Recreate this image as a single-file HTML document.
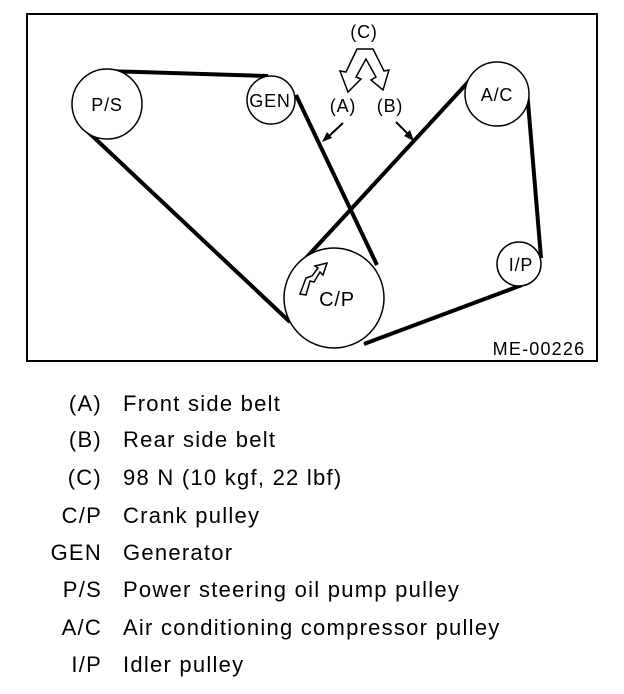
<!DOCTYPE html>
<html><head><style>
body{margin:0;background:#fff;width:624px;height:694px;overflow:hidden;font-family:"Liberation Sans",sans-serif;}
.leg{position:absolute;font-size:22px;color:#000;letter-spacing:1.25px;}
.k{position:absolute;width:84px;text-align:right;left:18px;}
.v{position:absolute;left:123px;white-space:nowrap;}
</style></head><body>
<svg width="624" height="694" style="position:absolute;left:0;top:0" font-family="Liberation Sans, sans-serif">
<rect x="27" y="14" width="570" height="347" fill="none" stroke="#000" stroke-width="2"/>
<g stroke="#000" stroke-width="4" fill="none">
<line x1="105" y1="71" x2="268" y2="76"/>
<line x1="86" y1="130" x2="290" y2="322"/>
<line x1="296" y1="95" x2="377" y2="265"/>
<line x1="306" y1="258" x2="470" y2="80"/>
<line x1="527" y1="90" x2="541" y2="258"/>
<line x1="522" y1="285" x2="364" y2="344"/>
</g>
<g stroke="#000" stroke-width="1.5" fill="#fff">
<circle cx="107" cy="104" r="35"/>
<circle cx="271" cy="100" r="24"/>
<circle cx="497" cy="94" r="32"/>
<circle cx="519" cy="264" r="22"/>
<circle cx="334" cy="298" r="50"/>
</g>
<g font-size="18" text-anchor="middle" letter-spacing="0.8">
<text x="107" y="111">P/S</text>
<text x="270" y="107">GEN</text>
<text x="497" y="101">A/C</text>
<text x="521" y="271">I/P</text>
<text x="337" y="306" font-size="20">C/P</text>
<text x="364" y="38">(C)</text>
<text x="343" y="112">(A)</text>
<text x="390" y="112">(B)</text>
<text x="539" y="355" letter-spacing="1.2">ME-00226</text>
</g>
<path d="M357,49 L373,49 L384,71 L389,70 L383,90 L371,80 L376,77 L366,59 L356,77 L361,79 L348,92 L340,71 L346,72 Z" fill="#fff" stroke="#000" stroke-width="1.5"/>
<g stroke="#000" stroke-width="2">
<line x1="343" y1="123" x2="328" y2="137"/>
<line x1="396" y1="122" x2="410" y2="136"/>
</g>
<polygon points="322,142 327,132 332,138" fill="#000"/>
<polygon points="414,141 404,136 410,130" fill="#000"/>
<path d="M300,294 L306,278 L312,276 L318,268 L315,266 L327,263 L323,275 L320,272 L314,282 L310,281 L306,295 Z" fill="#fff" stroke="#000" stroke-width="1.5"/>
</svg>
<div class="leg">
<div class="k" style="top:391px">(A)</div><div class="v" style="top:391px">Front side belt</div>
<div class="k" style="top:427px">(B)</div><div class="v" style="top:427px">Rear side belt</div>
<div class="k" style="top:465px">(C)</div><div class="v" style="top:465px">98 N (10 kgf, 22 lbf)</div>
<div class="k" style="top:503px">C/P</div><div class="v" style="top:503px">Crank pulley</div>
<div class="k" style="top:540px">GEN</div><div class="v" style="top:540px">Generator</div>
<div class="k" style="top:577px">P/S</div><div class="v" style="top:577px">Power steering oil pump pulley</div>
<div class="k" style="top:615px">A/C</div><div class="v" style="top:615px">Air conditioning compressor pulley</div>
<div class="k" style="top:652px">I/P</div><div class="v" style="top:652px">Idler pulley</div>
</div>
</body></html>
